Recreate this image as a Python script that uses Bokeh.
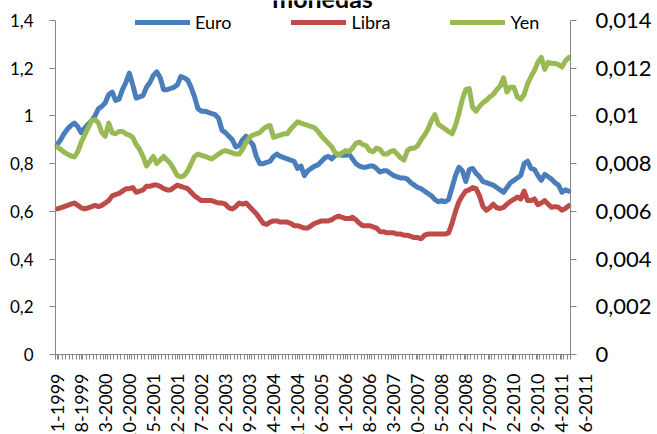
import math
from bokeh.plotting import figure
from bokeh.models import Range1d, LinearAxis, FixedTicker, Legend, LegendItem, Label, ColumnDataSource
from bokeh.embed import file_html
from bokeh.resources import INLINE

# ---------------- data ----------------
months = [f"{m}-{y}" for y in range(1999, 2012) for m in range(1, 13)][:150]

euro = [
    0.88, 0.90, 0.925, 0.945, 0.96, 0.97, 0.955, 0.93, 0.95, 0.965,
    0.98, 1.00, 1.03, 1.04, 1.055, 1.09, 1.10, 1.065, 1.07, 1.11,
    1.14, 1.18, 1.13, 1.075, 1.08, 1.085, 1.12, 1.14, 1.17, 1.185,
    1.16, 1.11, 1.11, 1.115, 1.12, 1.13, 1.165, 1.16, 1.15, 1.12,
    1.08, 1.03, 1.02, 1.02, 1.015, 1.01, 1.005, 0.99, 0.94, 0.93,
    0.915, 0.90, 0.87, 0.875, 0.90, 0.915, 0.895, 0.88, 0.83, 0.80,
    0.80, 0.805, 0.81, 0.83, 0.84, 0.83, 0.825, 0.82, 0.815, 0.81,
    0.78, 0.79, 0.75, 0.77, 0.78, 0.79, 0.795, 0.81, 0.825, 0.83,
    0.82, 0.835, 0.84, 0.835, 0.835, 0.84, 0.82, 0.80, 0.79, 0.785,
    0.785, 0.79, 0.79, 0.78, 0.765, 0.77, 0.77, 0.76, 0.75, 0.745,
    0.74, 0.74, 0.735, 0.72, 0.71, 0.70, 0.695, 0.685, 0.675, 0.665,
    0.65, 0.64, 0.645, 0.64, 0.65, 0.70, 0.75, 0.785, 0.77, 0.725,
    0.775, 0.78, 0.76, 0.745, 0.725, 0.72, 0.715, 0.71, 0.70, 0.69,
    0.68, 0.70, 0.72, 0.73, 0.74, 0.75, 0.80, 0.81, 0.78, 0.775,
    0.75, 0.73, 0.755, 0.745, 0.735, 0.72, 0.71, 0.68, 0.69, 0.685,
]

libra = [
    0.61, 0.615, 0.62, 0.625, 0.63, 0.635, 0.625, 0.615, 0.61, 0.615,
    0.62, 0.625, 0.62, 0.625, 0.635, 0.645, 0.665, 0.67, 0.675, 0.685,
    0.695, 0.695, 0.70, 0.68, 0.685, 0.69, 0.705, 0.705, 0.71, 0.71,
    0.705, 0.695, 0.69, 0.69, 0.70, 0.71, 0.705, 0.70, 0.695, 0.68,
    0.665, 0.655, 0.645, 0.645, 0.645, 0.645, 0.64, 0.635, 0.635, 0.63,
    0.615, 0.61, 0.62, 0.635, 0.63, 0.635, 0.62, 0.605, 0.59, 0.57,
    0.55, 0.545, 0.555, 0.56, 0.56, 0.555, 0.555, 0.555, 0.55, 0.54,
    0.54, 0.535, 0.53, 0.53, 0.54, 0.55, 0.555, 0.56, 0.56, 0.56,
    0.565, 0.575, 0.58, 0.575, 0.57, 0.57, 0.575, 0.565, 0.55, 0.54,
    0.54, 0.54, 0.535, 0.53, 0.515, 0.515, 0.51, 0.51, 0.51, 0.505,
    0.505, 0.50, 0.50, 0.495, 0.49, 0.49, 0.485, 0.50, 0.505, 0.505,
    0.505, 0.505, 0.505, 0.505, 0.51, 0.55, 0.60, 0.64, 0.665, 0.685,
    0.69, 0.70, 0.695, 0.665, 0.62, 0.605, 0.615, 0.63, 0.615, 0.612,
    0.617, 0.63, 0.642, 0.65, 0.66, 0.652, 0.685, 0.645, 0.645, 0.652,
    0.628, 0.635, 0.645, 0.63, 0.617, 0.62, 0.617, 0.605, 0.612, 0.624,
]

yen = [
    0.00870, 0.00860, 0.00848, 0.00840, 0.00832, 0.00828, 0.00850, 0.00890, 0.00920, 0.00950,
    0.00980, 0.00985, 0.00970, 0.00930, 0.00915, 0.00970, 0.00930, 0.00925, 0.00935, 0.00935,
    0.00925, 0.00920, 0.00910, 0.00880, 0.00860, 0.00830, 0.00790, 0.00810, 0.00830, 0.00800,
    0.00815, 0.00830, 0.00815, 0.00800, 0.00775, 0.00750, 0.00745, 0.00750, 0.00770, 0.00800,
    0.00830, 0.00840, 0.00835, 0.00830, 0.00825, 0.00820, 0.00830, 0.00840, 0.00850, 0.00855,
    0.00850, 0.00845, 0.00840, 0.00840, 0.00860, 0.00890, 0.00910, 0.00920, 0.00925, 0.00930,
    0.00945, 0.00955, 0.00960, 0.00910, 0.00915, 0.00920, 0.00925, 0.00925, 0.00945, 0.00960,
    0.00975, 0.00970, 0.00965, 0.00960, 0.00955, 0.00950, 0.00935, 0.00915, 0.00900, 0.00885,
    0.00870, 0.00845, 0.00835, 0.00845, 0.00855, 0.00850, 0.00865, 0.00885, 0.00890, 0.00880,
    0.00875, 0.00855, 0.00850, 0.00865, 0.00860, 0.00840, 0.00840, 0.00850, 0.00855, 0.00840,
    0.00825, 0.00815, 0.00855, 0.00865, 0.00865, 0.00875, 0.00900, 0.00920, 0.00945, 0.00980,
    0.01005, 0.00965, 0.00955, 0.00945, 0.00935, 0.00925, 0.00960, 0.01010, 0.01070, 0.01110,
    0.01115, 0.01035, 0.01020, 0.01040, 0.01055, 0.01065, 0.01080, 0.01090, 0.01110, 0.01125,
    0.01160, 0.01100, 0.01120, 0.01120, 0.01080, 0.01070, 0.01090, 0.01135, 0.01165, 0.01190,
    0.01225, 0.01245, 0.01195, 0.01225, 0.01220, 0.01220, 0.01215, 0.01205, 0.01230, 0.01245,
]

left_ticks = [0, 0.2, 0.4, 0.6, 0.8, 1.0, 1.2, 1.4]
left_labels = ["0", "0,2", "0,4", "0,6", "0,8", "1", "1,2", "1,4"]
right_ticks = [0, 0.002, 0.004, 0.006, 0.008, 0.010, 0.012, 0.014]
right_labels = ["0", "0,002", "0,004", "0,006", "0,008", "0,01", "0,012", "0,014"]
label_step = 7
last_label = "6-2011"
series_names = ["Euro", "Libra", "Yen"]
colors = ["#4A7EBB", "#BE4B48", "#98B954"]
title_text = "monedas"

# ---------------- layout (pixels) ----------------
W, H = 657, 434
PLOT_L, PLOT_R, PLOT_T, PLOT_B = 55, 570, 20, 354
LEFT_MAX, RIGHT_MAX = 1.4, 0.014

n = len(months)
px_x = (PLOT_R - PLOT_L) / n                 # pixels per category
px_y = (PLOT_B - PLOT_T) / LEFT_MAX          # pixels per unit (left axis)
x_start = -0.5 - PLOT_L / px_x
x_end = -0.5 + (W - PLOT_L) / px_x
y_start = -(H - PLOT_B) / px_y
y_end = LEFT_MAX + PLOT_T / px_y
k = RIGHT_MAX / LEFT_MAX

xs = list(range(n))
src = ColumnDataSource(dict(x=xs, euro=euro, libra=libra, yen=yen))

FONT = "Lato"
AXIS_COLOR = "#868686"

p = figure(width=W, height=H, output_backend="svg", toolbar_location=None,
           x_range=Range1d(x_start, x_end), y_range=Range1d(y_start, y_end),
           min_border_left=0, min_border_right=0, min_border_top=0, min_border_bottom=0)
p.extra_y_ranges = {"yen": Range1d(y_start * k, y_end * k)}
p.outline_line_color = None
p.grid.visible = False
p.background_fill_color = "white"
p.border_fill_color = "white"

# x axis
major_x = list(range(0, n, label_step))
p.xaxis.ticker = FixedTicker(ticks=major_x, minor_ticks=[i - 0.5 for i in range(n + 1)])
p.xaxis.major_label_overrides = {i: months[i] for i in major_x}
p.xaxis.major_label_orientation = math.pi / 2
p.xaxis.fixed_location = 0
p.xaxis.bounds = (-0.5, n - 0.5)
for ax in p.xaxis:
    ax.axis_line_color = AXIS_COLOR
    ax.major_tick_line_color = AXIS_COLOR
    ax.minor_tick_line_color = AXIS_COLOR
    ax.major_tick_in = 0
    ax.major_tick_out = 5
    ax.minor_tick_in = 0
    ax.minor_tick_out = 5
    ax.major_label_standoff = 14
    ax.major_label_text_font = FONT
    ax.major_label_text_font_size = "18px"
    ax.major_label_text_color = "black"

# left axis
p.yaxis.ticker = FixedTicker(ticks=left_ticks)
p.yaxis.major_label_overrides = dict(zip(left_ticks, left_labels))
p.yaxis.fixed_location = -0.5
p.yaxis.bounds = (0, LEFT_MAX)
for ax in p.yaxis:
    ax.axis_line_color = AXIS_COLOR
    ax.major_tick_line_color = AXIS_COLOR
    ax.major_tick_in = 0
    ax.major_tick_out = 6
    ax.major_label_standoff = 16
    ax.major_label_text_font = FONT
    ax.major_label_text_font_size = "17px"
    ax.major_label_text_color = "black"

# right axis
ry = LinearAxis(y_range_name="yen", ticker=FixedTicker(ticks=right_ticks),
                major_label_overrides=dict(zip(right_ticks, right_labels)),
                fixed_location=n - 0.5, bounds=(0, RIGHT_MAX))
ry.axis_line_color = AXIS_COLOR
ry.major_tick_line_color = AXIS_COLOR
ry.major_tick_in = 0
ry.major_tick_out = 6
ry.major_label_standoff = 19
ry.major_label_text_font = FONT
ry.major_label_text_font_size = "22px"
ry.major_label_text_color = "black"
p.add_layout(ry, "right")

# lines
r_euro = p.line("x", "euro", source=src, line_color=colors[0], line_width=5,
                line_join="round", line_cap="round")
r_libra = p.line("x", "libra", source=src, line_color=colors[1], line_width=5,
                 line_join="round", line_cap="round")
r_yen = p.line("x", "yen", source=src, y_range_name="yen", line_color=colors[2], line_width=5,
               line_join="round", line_cap="round")

legend = Legend(items=[LegendItem(label=series_names[0], renderers=[r_euro]),
                       LegendItem(label=series_names[1], renderers=[r_libra]),
                       LegendItem(label=series_names[2], renderers=[r_yen])],
                orientation="horizontal", location=(135, H - 33),
                glyph_width=55, glyph_height=20, label_standoff=5, spacing=60,
                padding=0, margin=0, border_line_color=None, background_fill_alpha=0,
                label_text_font=FONT, label_text_font_size="18px", label_text_color="black")
p.add_layout(legend)

# title (cut at the top edge, as in the original) and last tick label
p.add_layout(Label(x=322, y=H + 3, x_units="screen", y_units="screen", text=title_text,
                   text_font=FONT, text_font_style="bold", text_font_size="25px",
                   text_align="center", text_baseline="alphabetic", text_color="black"))
p.add_layout(Label(x=585, y=H - 373, x_units="screen", y_units="screen", text=last_label,
                   angle=math.pi / 2, text_font=FONT, text_font_size="18px",
                   text_align="right", text_baseline="middle", text_color="black"))

open("out.html", "w").write(file_html(p, INLINE))
